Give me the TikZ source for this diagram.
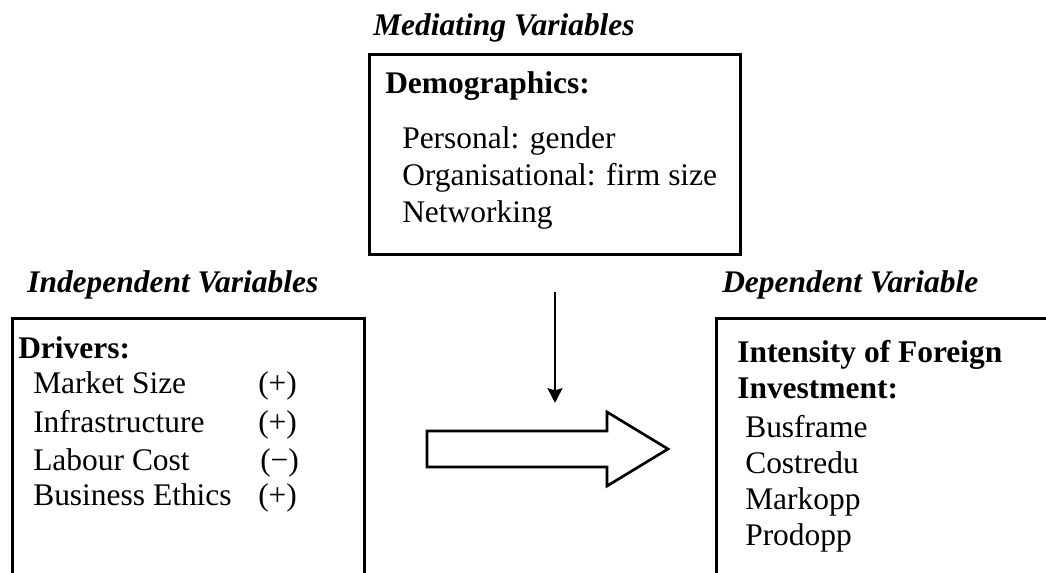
\documentclass[tikz,border=0pt]{standalone}
\usepackage{fontspec}
\setmainfont{Liberation Serif}
\usetikzlibrary{arrows.meta}
\begin{document}
\begin{tikzpicture}[x=0.75pt,y=-0.75pt,
  txt/.style={anchor=base west, inner sep=0pt, font=\fontsize{23.6}{28}\selectfont},
  hdr/.style={anchor=base west, inner sep=0pt, font=\fontsize{23.6}{28}\selectfont\bfseries\itshape},
  boldtxt/.style={anchor=base west, inner sep=0pt, font=\fontsize{23.6}{28}\selectfont\bfseries},
  frame/.style={draw, line width=2.6pt, inner sep=0pt, anchor=north west},
  blockarrow/.style={draw, line width=2pt, fill=white},
  medarrow/.style={line width=2.2pt, -{Stealth[length=11pt, width=11pt, inset=1.5pt]}}
]
\useasboundingbox (0,0) rectangle (1046,572);
\clip (0,0) rectangle (1046,572);
\fill[white] (0,0) rectangle (1046,572);

% boxes
\node[frame, minimum width=278.25pt, minimum height=150pt] (med) at (368,53) {};
\node[frame, minimum width=264pt, minimum height=212.25pt] (indep) at (11,317) {};
\node[frame, minimum width=258.75pt, minimum height=212.25pt] (dep) at (715,317) {};

% headings
\node[hdr] (medh) at (373,35) {Mediating Variables};
\node[hdr] (indh) at (27,292) {Independent Variables};
\node[hdr] (deph) at (722,292) {Dependent Variable};

% mediating box text
\node[boldtxt] (demo) at (385,93) {Demographics:};
\node[txt] (m1) at (402,148) {Personal: gender};
\node[txt] (m2) at (402,185) {Organisational: firm size};
\node[txt] (m3) at (402,222) {Networking};

% independent box text
\node[boldtxt] (drv) at (18,358) {Drivers:};
\node[txt] (i1) at (33,393) {Market Size};
\node[txt] (i2) at (33,432) {Infrastructure};
\node[txt] (i3) at (33,470) {Labour Cost};
\node[txt] (i4) at (33,505) {Business Ethics};
\node[txt] (s1) at (258,393) {(+)};
\node[txt] (s2) at (258,432) {(+)};
\node[txt] (s3) at (260,470) {(−)};
\node[txt] (s4) at (258,505) {(+)};

% dependent box text
\node[boldtxt] (dt1) at (737,362) {Intensity of Foreign};
\node[boldtxt] (dt2) at (737,398) {Investment:};
\node[txt] (d1) at (745,437) {Busframe};
\node[txt] (d2) at (745,473) {Costredu};
\node[txt] (d3) at (745,509) {Markopp};
\node[txt] (d4) at (745,545) {Prodopp};

% arrows
\coordinate (va1) at (555,292);
\coordinate (va2) at (555,403);
\draw[medarrow] (va1) -- (va2);
\draw[blockarrow] (427,431) -- (607,431) -- (607,412) -- (668,449) -- (607,486) -- (607,467) -- (427,467) -- cycle;
\end{tikzpicture}
\end{document}
